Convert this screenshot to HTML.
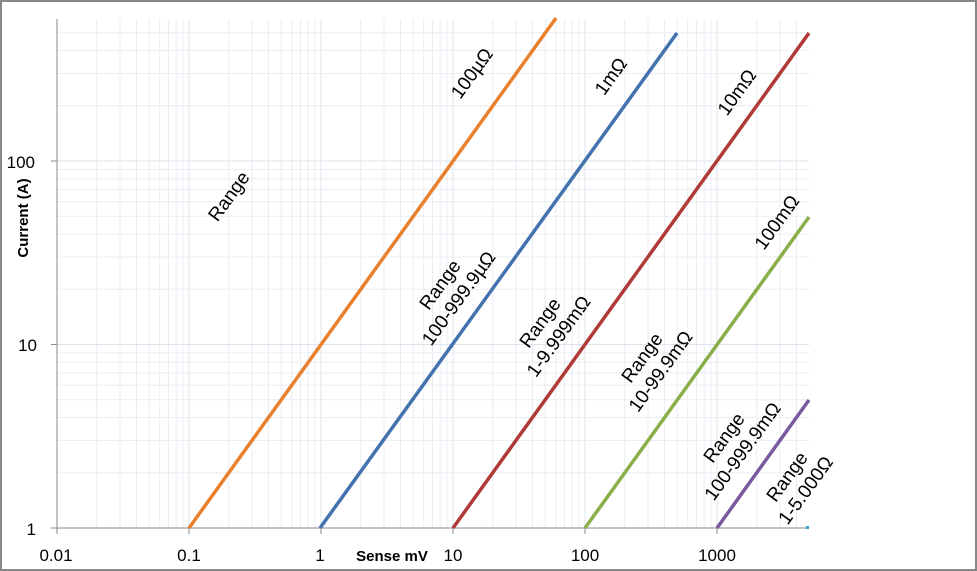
<!DOCTYPE html>
<html><head><meta charset="utf-8"><style>
html,body{margin:0;padding:0;background:#fff}
svg{display:block}
text{font-family:"Liberation Sans",sans-serif;fill:#000}
</style></head><body>
<svg id="s" width="977" height="571" viewBox="0 0 977 571" xmlns="http://www.w3.org/2000/svg">
<rect x="1" y="1" width="975" height="569" fill="#fff" stroke="#888" stroke-width="2"/>
<g id="grid"></g>
<line x1="57" y1="19" x2="57" y2="528" stroke="#888" stroke-width="1"/>
<line x1="57" y1="528" x2="809" y2="528" stroke="#888" stroke-width="1"/>
<g id="ticks"></g>
<g stroke-width="3.5" fill="none" stroke-linecap="butt">
<line x1="189" y1="528" x2="556" y2="18" stroke="#E8802E"/>
<line x1="320" y1="528" x2="677" y2="33" stroke="#4472AE"/>
<line x1="453" y1="528" x2="809" y2="33" stroke="#B03A36"/>
<line x1="585" y1="528" x2="809" y2="217" stroke="#8AAE4A"/>
<line x1="717" y1="528" x2="809" y2="400" stroke="#7A5A9E"/>
</g>
<rect x="806" y="526" width="3" height="3" fill="#3aa0d0"/>
<g font-size="17" text-anchor="end">
<text x="36" y="535">1</text>
<text x="37" y="351">10</text>
<text x="35" y="168">100</text>
</g>
<g font-size="17" text-anchor="middle">
<text x="56" y="561">0.01</text>
<text x="189" y="561">0.1</text>
<text x="320" y="561">1</text>
<text x="453" y="561">10</text>
<text x="585" y="561">100</text>
<text x="717" y="561">1000</text>
</g>
<text x="392" y="561" font-size="15" font-weight="bold" text-anchor="middle">Sense mV</text>
<text transform="translate(28,218) rotate(-90)" font-size="15" font-weight="bold" text-anchor="middle">Current (A)</text>
<g font-size="19" text-anchor="middle">
<text transform="translate(477,77) rotate(-54)">100µΩ</text>
<text transform="translate(616,80) rotate(-54)">1mΩ</text>
<text transform="translate(742,96) rotate(-54)">10mΩ</text>
<text transform="translate(782,226) rotate(-54)">100mΩ</text>
<text transform="translate(234,200) rotate(-54)">Range</text>
<g transform="translate(450,292) rotate(-54)"><text y="-6">Range</text><text y="17">100-999.9µΩ</text></g>
<g transform="translate(550,330) rotate(-54)"><text y="-6">Range</text><text y="17">1-9.999mΩ</text></g>
<g transform="translate(652,365) rotate(-54)"><text y="-6">Range</text><text y="17">10-99.9mΩ</text></g>
<g transform="translate(734,445) rotate(-54)"><text y="-6">Range</text><text y="17">100-999.9mΩ</text></g>
<g transform="translate(797,484) rotate(-54)"><text y="-6">Range</text><text y="17">1-5.000Ω</text></g>
</g>
</svg>
<script>
var g=document.getElementById('grid'),t=document.getElementById('ticks'),NS='http://www.w3.org/2000/svg';
function L(p,x1,y1,x2,y2,c){var l=document.createElementNS(NS,'line');l.setAttribute('x1',x1);l.setAttribute('y1',y1);l.setAttribute('x2',x2);l.setAttribute('y2',y2);l.setAttribute('stroke',c);l.setAttribute('stroke-width',1);p.appendChild(l);}
var x0=57,dx=132,y0=528,dy=183.5;
for(var d=0;d<6;d++){for(var k=1;k<=9;k++){var x=x0+dx*(d+Math.log10(k));if(x>809)continue;L(g,x,19,x,528,k==1?'#dde3ee':'#e9edf4');}}
for(var d=0;d<3;d++){for(var k=1;k<=9;k++){var y=y0-dy*(d+Math.log10(k));if(y<19)continue;L(g,57,y,809,y,k==1?'#dde3ee':'#e9edf4');}}
for(var d=0;d<6;d++){var x=x0+dx*d;L(t,x,528,x,534,'#888');}
for(var d=0;d<3;d++){var y=y0-dy*d;L(t,51,y,57,y,'#888');}
</script>
</body></html>
